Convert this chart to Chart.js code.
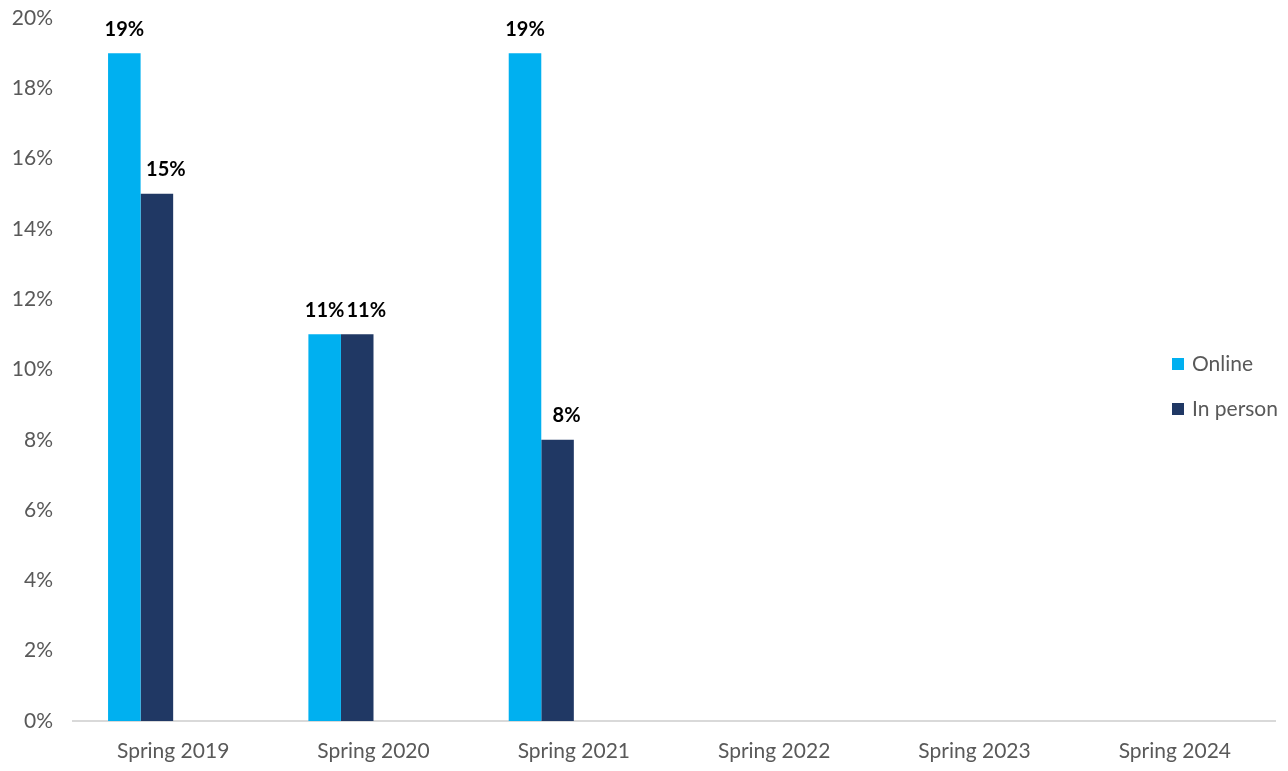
<!DOCTYPE html>
<html>
<head>
<meta charset="utf-8">
<script src="https://cdn.jsdelivr.net/npm/chart.js@4/dist/chart.umd.min.js"></script>
<style>
  html, body { margin: 0; padding: 0; background: #fff; }
  #wrap { width: 1288px; height: 771px; }
</style>
</head>
<body>
<div id="wrap"><canvas id="chart"></canvas></div>
<script>
const categories = ['Spring 2019', 'Spring 2020', 'Spring 2021', 'Spring 2022', 'Spring 2023', 'Spring 2024']
const online = [19, 11, 19, null, null, null]
const inPerson = [15, 11, 8, null, null, null]
// two empty series in the source workbook still reserve their slots
const emptyA = [null, null, null, null, null, null]
const emptyB = [null, null, null, null, null, null]
const yTicks = [0, 2, 4, 6, 8, 10, 12, 14, 16, 18, 20]

const FONT = 'Lato, "Open Sans", sans-serif'
const GREY = '#595959'

const valueLabels = {
  id: 'valueLabels',
  afterDatasetsDraw(chart) {
    const ctx = chart.ctx
    ctx.save()
    ctx.font = 'bold 20px ' + FONT
    ctx.fillStyle = '#000'
    ctx.textAlign = 'center'
    ctx.textBaseline = 'bottom'
    chart.data.datasets.forEach((ds, i) => {
      if (!ds.showLabels) return
      chart.getDatasetMeta(i).data.forEach((bar, j) => {
        const v = ds.data[j]
        if (v == null) return
        ctx.fillText(v + '%', bar.x + (i === 1 ? 9 : 0), bar.y - 14)
      })
    })
    ctx.restore()
  }
}

const sideLegend = {
  id: 'sideLegend',
  afterDraw(chart) {
    const ctx = chart.ctx
    ctx.save()
    ctx.font = '21px ' + FONT
    ctx.textBaseline = 'middle'
    let y = 364
    chart.data.datasets.forEach(ds => {
      if (!ds.inLegend) return
      ctx.fillStyle = ds.backgroundColor
      ctx.fillRect(1172, y - 6, 12, 12)
      ctx.fillStyle = GREY
      ctx.fillText(ds.label, 1192, y)
      y += 45
    })
    ctx.restore()
  }
}

new Chart(document.getElementById('chart'), {
  type: 'bar',
  data: {
    labels: categories,
    datasets: [
      { label: 'Online', data: online, backgroundColor: '#00B0F0', inLegend: true, showLabels: true },
      { label: 'In person', data: inPerson, backgroundColor: '#203864', inLegend: true, showLabels: true },
      { label: '', data: emptyA, backgroundColor: '#888' },
      { label: '', data: emptyB, backgroundColor: '#888' }
    ]
  },
  options: {
    responsive: true,
    maintainAspectRatio: false,
    animation: false,
    datasets: { bar: { categoryPercentage: 0.65, barPercentage: 1 } },
    layout: { padding: { top: 18, right: 13, bottom: 0, left: 0 } },
    plugins: {
      legend: { display: false },
      tooltip: { enabled: false }
    },
    scales: {
      x: {
        afterFit: s => { s.height = 50 },
        grid: { display: false, drawTicks: false },
        border: { display: true, color: '#D9D9D9', width: 2 },
        ticks: { color: GREY, font: { family: FONT, size: 21 }, padding: 18 }
      },
      y: {
        min: 0,
        max: 20,
        afterBuildTicks: s => { s.ticks = yTicks.map(v => ({ value: v })) },
        afterFit: s => { s.width = 73; s.paddingTop = 0; s.paddingBottom = 0 },
        grid: { display: false, drawTicks: false },
        border: { display: false },
        ticks: {
          color: GREY,
          font: { family: FONT, size: 21 },
          padding: 20,
          callback: v => v + '%'
        }
      }
    }
  },
  plugins: [valueLabels, sideLegend]
})
</script>
</body>
</html>
